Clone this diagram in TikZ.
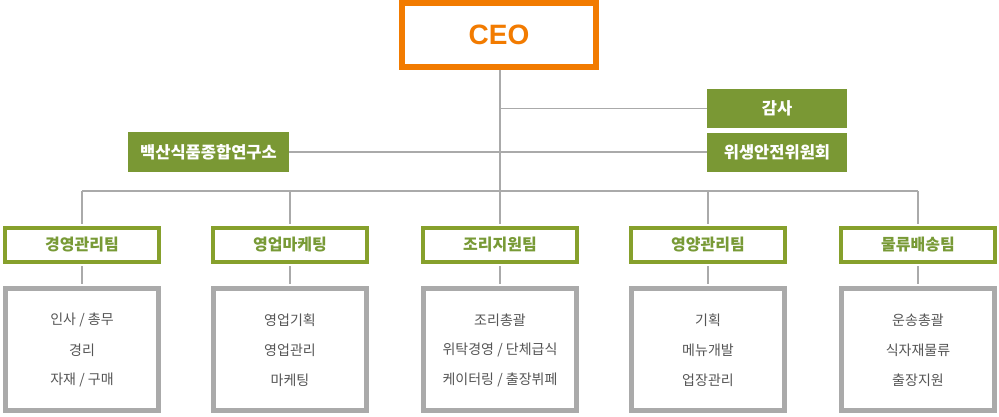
\documentclass[tikz,border=0pt]{standalone}
\usepackage{fontspec}
\setmainfont{Noto Sans CJK KR}
\newfontfamily\ceofont{Liberation Sans}
\definecolor{ceoorange}{HTML}{F27B00}
\definecolor{olivefill}{HTML}{7A9834}
\definecolor{teamborder}{HTML}{86A02C}
\definecolor{teamtext}{HTML}{789A36}
\definecolor{subgray}{HTML}{AAAAAA}
\definecolor{subtext}{HTML}{555555}
\definecolor{linegray}{HTML}{AAAAAA}
\tikzset{
  ceobox/.style={draw=ceoorange,line width=6pt,fill=white,minimum width=194pt,minimum height=64pt,inner sep=0pt,
    font=\ceofont\bfseries\fontsize{28}{28}\selectfont,text=ceoorange},
  greenbox/.style={fill=olivefill,text=white,inner sep=0pt,minimum height=39pt,
    font=\bfseries\fontsize{16.5}{16.5}\selectfont},
  teambox/.style={draw=teamborder,line width=4pt,fill=white,minimum width=154pt,minimum height=34pt,inner sep=0pt,
    font=\bfseries\fontsize{16}{16}\selectfont,text=teamtext},
  subbox/.style={draw=subgray,line width=5pt,fill=white,minimum width=153pt,minimum height=122pt,inner sep=0pt},
  subline/.style={font=\fontsize{14}{14}\selectfont,text=subtext,inner sep=0pt},
  conn/.style={draw=linegray,line width=1.1pt}
}
\begin{document}
\begin{tikzpicture}[x=1pt,y=-1pt]
\useasboundingbox (0,0) rectangle (999,416);
\coordinate (trunkbot) at (500,191);
\coordinate (busL) at (82,191);
\coordinate (busR) at (918,191);

\node[ceobox] (ceo) at (499,35) {CEO};
\node[greenbox,minimum width=140pt] (gamsa) at (777,108.5) {감사};
\node[greenbox,minimum width=140pt] (wisaeng) at (777,152) {위생안전위원회};
\node[greenbox,minimum width=161pt,minimum height=40pt] (baeksan) at (208.5,152) {백산식품종합연구소};

\foreach \i/\x/\t in {1/82/경영관리팀,2/290/영업마케팅,3/500/조리지원팀,4/708/영양관리팀,5/918/물류배송팀}{
  \node[teambox] (team\i) at (\x,245) {\t};
  \node[subbox] (sub\i) at (\x,349.5) {};
}
\node[subline] (s11) at (sub1.center |- 0,320) {인사 / 총무};
\node[subline] (s12) at (sub1.center |- 0,350) {경리};
\node[subline] (s13) at (sub1.center |- 0,380) {자재 / 구매};
\node[subline] (s21) at (sub2.center |- 0,320) {영업기획};
\node[subline] (s22) at (sub2.center |- 0,350) {영업관리};
\node[subline] (s23) at (sub2.center |- 0,380) {마케팅};
\node[subline] (s31) at (sub3.center |- 0,320) {조리총괄};
\node[subline] (s32) at (sub3.center |- 0,350) {위탁경영 / 단체급식};
\node[subline] (s33) at (sub3.center |- 0,380) {케이터링 / 출장뷔페};
\node[subline] (s41) at (sub4.center |- 0,320) {기획};
\node[subline] (s42) at (sub4.center |- 0,350) {메뉴개발};
\node[subline] (s43) at (sub4.center |- 0,380) {업장관리};
\node[subline] (s51) at (sub5.center |- 0,320) {운송총괄};
\node[subline] (s52) at (sub5.center |- 0,350) {식자재물류};
\node[subline] (s53) at (sub5.center |- 0,380) {출장지원};

\draw[conn] (ceo.south -| trunkbot) -- (trunkbot);
\draw[conn] (trunkbot |- gamsa.west) -- (gamsa.west);
\draw[conn] (baeksan.east) -- (baeksan.east -| wisaeng.west);
\draw[conn] (busL) -- (busR);
\foreach \i in {1,...,5}{
  \draw[conn] (team\i.north |- busL) -- ([yshift=2pt]team\i.north);
  \draw[conn] ([yshift=-2pt]team\i.south) -- ([yshift=2.5pt]sub\i.north);
}
\end{tikzpicture}
\end{document}
